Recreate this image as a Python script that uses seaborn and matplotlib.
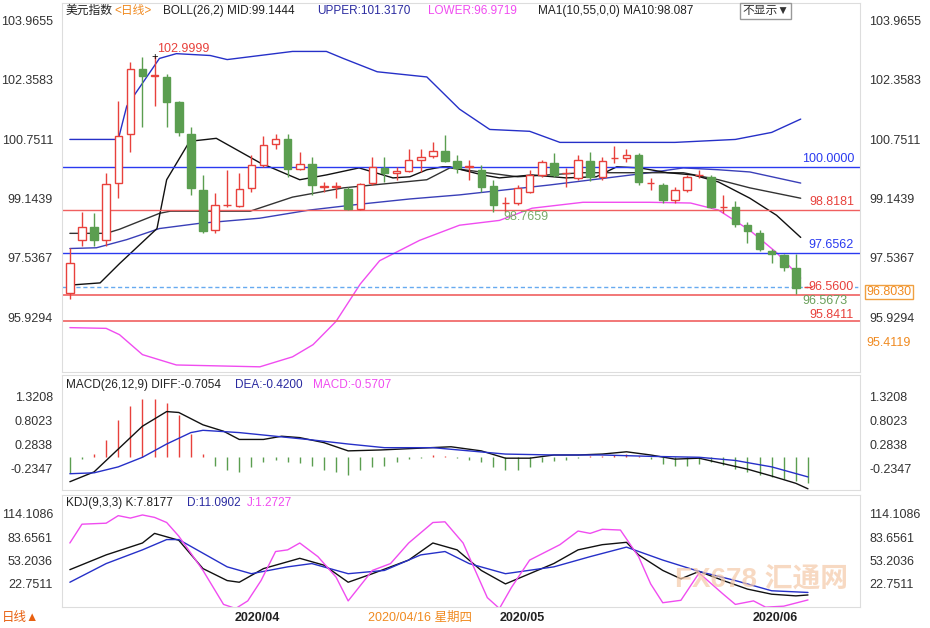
import seaborn as sns
import matplotlib.pyplot as plt
import pandas as pd
import numpy as np

# ---- candles (open, close, high, low), one per trading day ----
opens = [96.58, 98.01, 98.36, 98.01, 99.56, 100.88, 102.65, 102.46, 102.43, 101.75,
         100.90, 99.37, 98.28, 98.96, 98.93, 99.43, 100.06, 100.63, 100.74, 99.95,
         100.08, 99.46, 99.46, 99.40, 98.85, 99.56, 99.97, 99.84, 99.89, 100.19,
         100.30, 100.44, 100.17, 100.00, 99.92, 99.48, 99.01, 99.02, 99.32, 99.78,
         100.11, 99.83, 99.70, 100.17, 99.73, 100.24, 100.25, 100.33, 99.56, 99.51,
         99.10, 99.37, 99.78, 99.73, 98.91, 98.91, 98.42, 98.22, 97.73, 97.62,
         97.27, 96.74]
closes = [97.40, 98.36, 98.01, 99.54, 100.82, 102.65, 102.46, 102.46, 101.75, 100.93,
          99.43, 98.25, 98.96, 98.96, 99.40, 100.06, 100.60, 100.74, 99.95, 100.08,
          99.51, 99.46, 99.46, 98.85, 99.54, 100.00, 99.84, 99.89, 100.19, 100.27,
          100.44, 100.17, 99.97, 100.00, 99.46, 98.96, 99.02, 99.43, 99.78, 100.14,
          99.78, 99.84, 100.19, 99.73, 100.17, 100.25, 100.33, 99.59, 99.56, 99.10,
          99.37, 99.73, 99.78, 98.91, 98.91, 98.44, 98.25, 97.79, 97.65, 97.29,
          96.72, 96.75]
highs = [97.81, 98.77, 98.74, 99.84, 101.78, 102.84, 102.98, 103.00, 102.52, 101.78,
         101.07, 99.78, 99.29, 99.92, 99.84, 100.33, 100.82, 100.90, 100.90, 100.41,
         100.27, 99.59, 99.59, 99.46, 99.56, 100.27, 100.27, 100.00, 100.47, 100.47,
         100.68, 100.85, 100.33, 100.19, 100.06, 99.65, 99.18, 99.51, 99.92, 100.19,
         100.38, 99.97, 100.33, 100.41, 100.27, 100.55, 100.47, 100.38, 99.70, 99.56,
         99.46, 99.78, 99.92, 99.78, 99.24, 99.07, 98.50, 98.28, 97.79, 97.65,
         97.65, 96.77]
lows = [96.42, 97.87, 97.87, 97.87, 99.15, 100.41, 101.07, 101.64, 101.07, 100.82,
        99.24, 98.22, 98.22, 98.91, 98.91, 99.32, 100.00, 100.47, 99.73, 99.92,
        99.24, 99.32, 99.15, 98.83, 98.83, 99.51, 99.59, 99.65, 99.86, 99.86,
        100.25, 100.14, 99.84, 99.65, 99.32, 98.77, 98.77, 98.96, 99.29, 99.73,
        99.73, 99.46, 99.65, 99.62, 99.65, 100.11, 100.14, 99.51, 99.37, 99.02,
        99.02, 99.32, 99.70, 98.88, 98.74, 98.36, 97.95, 97.73, 97.40, 97.19,
        96.57, 96.73]

# ---- overlay lines (day index, value) ----
upper_x = [0, 4, 4.7, 7.4, 8.8, 11.6, 13, 15.7, 18.4, 21.2, 22.6, 25.4, 29.5, 32.2, 34.7, 38, 40.5, 50, 55, 58, 60.4]
upper_y = [100.74, 100.74, 101.64, 102.93, 103.06, 103.01, 102.90, 103.01, 103.12, 103.12, 102.93,
           102.57, 102.43, 101.56, 101.01, 100.96, 100.66, 100.66, 100.74, 100.93, 101.29]
lower_x = [0, 3, 4.1, 6, 8.8, 15.7, 18.4, 20.1, 22, 24, 25.6, 28.9, 32.2, 35.5, 38.2, 42.4, 47.9, 51.3, 53.6, 56.2, 58.4, 60.4]
lower_y = [95.65, 95.63, 95.46, 94.92, 94.64, 94.59, 94.86, 95.19, 95.82, 96.83, 97.46, 98.01,
           98.42, 98.55, 98.88, 99.04, 99.04, 99.02, 98.83, 98.28, 97.68, 96.99]
mid_x = [0, 2.2, 4.7, 7.4, 10.7, 15.7, 19.8, 24, 28.1, 32.2, 39.7, 47.9, 50.7, 53.6, 56.2, 60.4]
mid_y = [97.79, 97.81, 98.03, 98.33, 98.47, 98.61, 98.83, 98.99, 99.13, 99.24, 99.51, 99.84,
         99.97, 99.92, 99.86, 99.56]
ma55_x = [0, 3, 4.1, 7.4, 8.3, 14.9, 18.4, 22.6, 29.5, 31.4, 37, 42.4, 47.9, 50.7, 53.6, 56.2, 60.4]
ma55_y = [98.20, 98.20, 98.31, 98.74, 98.80, 98.80, 99.18, 99.43, 99.65, 99.97, 99.73, 99.84,
          99.84, 99.84, 99.65, 99.43, 99.15]
ma10_x = [0, 2.5, 4.1, 7.2, 8, 9.9, 11.3, 12.1, 15.7, 19, 21.2, 23.9, 26.7, 28.1, 29.5, 30.8,
          31.4, 34.1, 35.5, 38.2, 41, 43.5, 45.2, 47.1, 49.4, 51.5, 53.6, 56.2, 58.4, 60.4]
ma10_y = [96.80, 96.86, 97.38, 98.33, 99.65, 100.69, 100.74, 100.77, 100.11, 99.65, 99.78,
          99.97, 99.70, 99.73, 99.92, 100.00, 100.00, 99.78, 99.70, 99.78, 99.70, 99.73,
          100.00, 99.97, 99.84, 99.78, 99.59, 99.15, 98.69, 98.09]

# ---- MACD ----
macd_hist = [-0.335, -0.036, 0.071, 0.378, 0.82, 1.12, 1.28, 1.28, 1.18, 0.93, 0.50, 0.07,
             -0.18, -0.285, -0.32, -0.21, -0.11, -0.05, -0.11, -0.12, -0.18, -0.285, -0.32,
             -0.38, -0.285, -0.21, -0.18, -0.11, -0.036, -0.02, 0.05, 0.02, -0.02, -0.07,
             -0.11, -0.21, -0.285, -0.285, -0.21, -0.11, -0.09, -0.07, -0.02, 0.02, 0.02,
             0.05, 0.07, 0.036, -0.036, -0.14, -0.18, -0.18, -0.14, -0.11, -0.16, -0.25,
             -0.32, -0.38, -0.43, -0.48, -0.52, -0.57]
diff_x = [0, 2, 4, 6, 8, 9, 11, 12.7, 14, 16, 17.5, 19, 21, 23, 25.7, 29, 31.5, 34, 36, 38,
          40, 42, 44, 46, 48, 50, 52, 54, 56, 58, 60, 61]
diff_y = [-0.535, -0.32, 0.18, 0.68, 1.0, 0.98, 0.71, 0.57, 0.39, 0.39, 0.46, 0.43, 0.32,
          0.14, 0.16, 0.20, 0.23, 0.14, -0.02, -0.02, 0.05, 0.05, 0.07, 0.12, 0.05, -0.04,
          -0.02, -0.14, -0.26, -0.41, -0.57, -0.69]
dea_x = [0, 2, 4, 6, 8, 10, 11, 14, 17, 20, 23, 26, 30, 33, 36, 40, 44, 48, 52, 55, 58, 61]
dea_y = [-0.36, -0.34, -0.21, 0.0, 0.29, 0.54, 0.59, 0.54, 0.46, 0.38, 0.29, 0.21, 0.21,
         0.14, 0.07, 0.05, 0.05, 0.02, 0.0, -0.07, -0.21, -0.43]

# ---- KDJ ----
k_x = [0, 3, 6, 7, 9, 11, 13, 14, 16, 19, 21, 23, 25, 28, 30, 32, 34, 36, 38, 40, 42, 44,
       46, 47, 49, 50.5, 52, 54, 56, 58, 60, 61]
k_y = [41, 60.4, 76, 88.6, 79.6, 42.4, 26.7, 24.5, 42.4, 55.9, 46.9, 24.5, 35.7, 53.6, 76,
       67, 40, 22.3, 35.7, 49.1, 67, 73.8, 76.9, 60.4, 40, 29, 38.7, 26.7, 15.5, 8.8, 6.6, 7.8]
d_x = [0, 3, 6, 8, 9, 11, 13, 15, 18, 20, 23, 26, 29, 31, 33, 36, 40, 43, 46, 49, 52, 55, 58, 61]
d_y = [24.5, 49, 67, 80.5, 80.5, 62.6, 44.7, 35.7, 44.7, 49, 35.7, 40, 60.4, 64.8, 49, 35.7,
       44.7, 58.1, 70.6, 53.6, 38.7, 26.7, 13.3, 11.1]
j_x = [0, 1, 3, 4, 5, 6, 7, 8, 9, 10, 11, 12.7, 13.7, 14.7, 15.8, 17, 18, 19, 20.5, 22, 23,
       25, 26.5, 28, 30, 31, 32.5, 33.5, 34.5, 35.5, 36.5, 38, 40.5, 42, 43, 44, 45.5, 47,
       48, 49, 50.5, 52, 54, 55, 56.5, 57.5, 59, 61]
j_y = [76, 100.7, 102, 111.9, 108.7, 112.8, 109.6, 102.9, 85, 62.6, 40, -4.6, -10, 0, 26.7,
       64.8, 67, 76, 58.1, 31.2, 0, 40, 49, 76, 102.9, 103.8, 76, 40, 4.3, -10, 17.8, 53.6,
       73.8, 91.7, 88.6, 94, 93, 58.1, 22.3, -2.4, 0.8, 36.6, 8.8, -4.6, 0, -8.2, -6.9, 1.27]

price_ticks = [103.9655, 102.3583, 100.7511, 99.1439, 97.5367, 95.9294]
macd_ticks = [1.3208, 0.8023, 0.2838, -0.2347]
kdj_ticks = [114.1086, 83.6561, 53.2036, 22.7511]
date_pos = [15.5, 37.4, 58.3]
date_labels = ['2020/04', '2020/05', '2020/06']

RED = '#e8413c'
GREEN = '#5b9e50'
BLUE = '#2630c8'
MAG = '#f04cf0'

sns.set_style('white')
plt.rcParams['font.family'] = ['Liberation Sans', 'Noto Sans CJK SC', 'DejaVu Sans']
plt.rcParams['font.size'] = 9

fig = plt.figure(figsize=(9.3, 6.28), dpi=100)
W, H = 930, 628


def box(x0, y0, x1, y1):
    return [x0 / W, 1 - y1 / H, (x1 - x0) / W, (y1 - y0) / H]


ax = fig.add_axes(box(62, 3, 860, 372))
axm = fig.add_axes(box(62, 375, 860, 490))
axk = fig.add_axes(box(62, 495, 860, 607))

n = len(opens)
idx = np.arange(n)
xlim = (-0.65, 65.3)

# candles
for i in idx:
    o, c, hi, lo = opens[i], closes[i], highs[i], lows[i]
    up = c >= o
    col = RED if up else GREEN
    ax.vlines(i, lo, hi, color=col, lw=1, zorder=3)
    bot, h = min(o, c), max(abs(c - o), 0.01)
    ax.bar(i, h, bottom=bot, width=0.62, color='white' if up else GREEN,
           edgecolor=col, lw=1, zorder=4)

sns.lineplot(x=upper_x, y=upper_y, ax=ax, color=BLUE, lw=1)
sns.lineplot(x=mid_x, y=mid_y, ax=ax, color='#3a3fb8', lw=1)
sns.lineplot(x=lower_x, y=lower_y, ax=ax, color=MAG, lw=1)
sns.lineplot(x=ma55_x, y=ma55_y, ax=ax, color='#333333', lw=1)
sns.lineplot(x=ma10_x, y=ma10_y, ax=ax, color='#111111', lw=1)

ax.axhline(100.0, color='#2a3af0', lw=1)
ax.axhline(98.8181, color='#f06060', lw=1)
ax.axhline(97.6562, color='#2a3af0', lw=1)
ax.axhline(96.75, color='#66aaf0', lw=1, ls=(0, (3, 2)))
ax.axhline(96.53, color='#f06060', lw=1.2)
ax.axhline(95.8411, color='#f06060', lw=1.2)

ax.text(7.2, 103.1, '102.9999', color=RED, fontsize=9)
ax.text(7, 102.98, '+', color='black', fontsize=8, ha='center', va='center')
ax.text(35.8, 98.55, '98.7659', color='#7aab6a', fontsize=9)
ax.text(60.5, 96.36, '96.5673', color='#6aa05a', fontsize=9, va='center')
ax.text(64.8, 100.06, '100.0000', color='#2a3af0', fontsize=9, ha='right', va='bottom')
ax.text(64.8, 98.88, '98.8181', color=RED, fontsize=9, ha='right', va='bottom')
ax.text(64.8, 97.72, '97.6562', color='#2a3af0', fontsize=9, ha='right', va='bottom')
ax.text(64.8, 96.75, '96.5600', color=RED, fontsize=9, ha='right', va='center',
        bbox=dict(fc='white', ec='none', pad=0.5))
ax.text(64.8, 96.0, '95.8411', color=RED, fontsize=9, ha='right', va='center')

ax.set_ylim(94.45, 104.43)
ax.set_yticks(price_ticks)
ax.set_yticklabels([f'{t:.4f}' for t in price_ticks])

# MACD histogram
hist_cols = [RED if v > 0 else GREEN for v in macd_hist]
axm.vlines(idx, 0, macd_hist, colors=hist_cols, lw=1)
sns.lineplot(x=diff_x, y=diff_y, ax=axm, color='#111111', lw=1)
sns.lineplot(x=dea_x, y=dea_y, ax=axm, color=BLUE, lw=1)
axm.set_ylim(-0.716, 1.80)
axm.set_yticks(macd_ticks)
axm.set_yticklabels([f'{t:.4f}' for t in macd_ticks])

# KDJ
sns.lineplot(x=k_x, y=k_y, ax=axk, color='#111111', lw=1)
sns.lineplot(x=d_x, y=d_y, ax=axk, color=BLUE, lw=1)
sns.lineplot(x=j_x, y=j_y, ax=axk, color=MAG, lw=1)
axk.set_ylim(-8, 139)
axk.set_yticks(kdj_ticks)
axk.set_yticklabels([f'{t:.4f}' for t in kdj_ticks])
axk.text(0.985, 0.12, 'FX678 汇通网', transform=axk.transAxes, ha='right', va='bottom',
         fontsize=20, color='#f5c9a8', alpha=0.7, fontweight='bold')

for a in (ax, axm, axk):
    a.set_xlim(*xlim)
    a.set_xticks([])
    a.tick_params(axis='y', labelleft=True, labelright=True, left=False, right=False,
                  labelsize=9, labelcolor='#333333', pad=3)
    for s in a.spines.values():
        s.set_color('#dddddd')
    a.set_xlabel('')
    a.set_ylabel('')

# header texts (figure pixel coordinates)
def ftxt(x, y, s, c, fs=8.5, **kw):
    fig.text(x / W, 1 - y / H, s, color=c, va='center', fontsize=fs, **kw)

ftxt(66, 11, '美元指数', '#222222')
ftxt(114, 11, '<日线>', '#f08a20')
ftxt(163, 11, 'BOLL(26,2) MID:99.1444', '#222222')
ftxt(317, 11, 'UPPER:101.3170', '#2a2aa0')
ftxt(428, 11, 'LOWER:96.9719', MAG)
ftxt(538, 11, 'MA1(10,55,0,0) MA10:98.087', '#222222')
ftxt(742, 11, '不显示▼', '#333333', bbox=dict(fc='white', ec='#999999', pad=1.5))
ftxt(66, 385, 'MACD(26,12,9) DIFF:-0.7054', '#222222')
ftxt(235, 385, 'DEA:-0.4200', '#2a2aa0')
ftxt(313, 385, 'MACD:-0.5707', MAG)
ftxt(66, 503, 'KDJ(9,3,3) K:7.8177', '#222222')
ftxt(187, 503, 'D:11.0902', '#2a2aa0')
ftxt(247, 503, 'J:1.2727', MAG)
ftxt(866, 292, '96.8030', '#f08a20', fs=9, bbox=dict(fc='white', ec='#f0a040', pad=1))
ftxt(866, 343, '95.4119', '#f08a20', fs=9)
ftxt(2, 618, '日线▲', '#e86010', fs=9)
ftxt(368, 618, '2020/04/16 星期四', '#f08a20', fs=9)
for p, lab in zip(date_pos, date_labels):
    xp = 62 + (p - xlim[0]) / (xlim[1] - xlim[0]) * 798
    fig.text(xp / W, 1 - 618 / H, lab, color='#222222', ha='center', va='center',
             fontsize=9, fontweight='bold')

fig.savefig('out.png', dpi=100)
